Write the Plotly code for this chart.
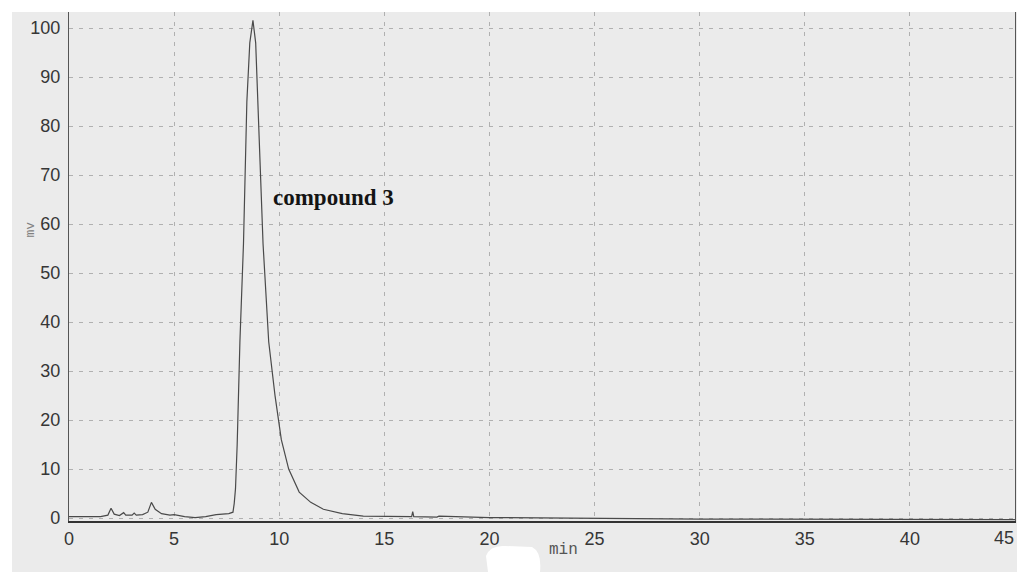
import plotly.graph_objects as go

# Chromatogram trace: retention time (min) and detector response (mV)
time_min = [0.0, 1.5, 1.85, 2.0, 2.15, 2.4, 2.6, 2.7, 3.0, 3.1, 3.2, 3.5, 3.75, 3.92,
            4.1, 4.4, 4.8, 5.0, 5.5, 6.0, 6.5, 7.0, 7.6, 7.8, 7.86, 7.92, 8.0, 8.13,
            8.3, 8.46, 8.6, 8.75, 8.88, 8.99, 9.23, 9.5, 9.8, 10.1, 10.45, 10.95,
            11.5, 12.1, 13.0, 14.0, 15.0, 16.3, 16.35, 16.4, 17.5, 17.6, 20.0, 30.0, 45.0]
signal_mv = [0.3, 0.3, 0.6, 2.0, 0.8, 0.5, 1.1, 0.6, 0.6, 1.0, 0.6, 0.7, 1.2, 3.2,
             1.8, 0.9, 0.6, 0.7, 0.3, 0.1, 0.3, 0.7, 0.9, 1.2, 3.0, 6.0, 15.0, 36.0,
             56.0, 85.0, 97.0, 101.6, 97.0, 85.0, 56.0, 36.0, 25.0, 16.0, 10.0, 5.3,
             3.2, 1.8, 0.9, 0.4, 0.3, 0.3, 1.3, 0.3, 0.2, 0.4, 0.1, -0.2, -0.3]

x_ticks = [0, 5, 10, 15, 20, 25, 30, 35, 40, 45]
y_ticks = [0, 10, 20, 30, 40, 50, 60, 70, 80, 90, 100]

peak_label = "compound 3"
peak_label_time = 9.6
peak_label_mv = 65.5

W, H = 1017, 572
ML, MR, MT, MB = 69, 2, 12, 51
PAPER_BG = "#ebebeb"


def px_x(px):
    return (px - ML) / (W - ML - MR)


def px_y(py):
    return 1 - (py - MT) / (H - MT - MB)


fig = go.Figure()
fig.add_trace(go.Scatter(
    x=time_min, y=signal_mv, mode="lines",
    line=dict(color="#4a4a4a", width=1.2),
    hoverinfo="skip", showlegend=False,
))

tick_font = dict(family="Liberation Sans, Arial, sans-serif", size=18, color="#363636")
grid_common = dict(showgrid=True, gridcolor="#b0b0b0", gridwidth=1, zeroline=False, ticks="")

# the last x tick sits on the sheet edge and is drawn as a separate label below
fig.update_xaxes(range=[0, 45], tickvals=x_ticks, ticktext=[str(v) for v in x_ticks[:-1]] + [""],
                 tickfont=tick_font, showline=True, linecolor="#333333", linewidth=2,
                 griddash="4px,6px", **grid_common)
fig.update_yaxes(range=[-0.6, 103.3], tickvals=y_ticks, ticktext=[str(v) for v in y_ticks],
                 tickfont=tick_font, showline=True, mirror=True, linecolor="#555555",
                 linewidth=1.3, griddash="4px,6px", ticklabelstandoff=4, **grid_common)

shapes = [
    # white strips along top and left edges of the sheet
    dict(type="rect", xref="paper", yref="paper", x0=px_x(0), x1=px_x(W), y0=px_y(12), y1=px_y(0),
         fillcolor="white", line_width=0, layer="below"),
    dict(type="rect", xref="paper", yref="paper", x0=px_x(0), x1=px_x(12), y0=px_y(H), y1=px_y(0),
         fillcolor="white", line_width=0, layer="below"),
    # erased patch beside the axis unit
    dict(type="path", xref="paper", yref="paper",
         path=(f"M {px_x(488)},{px_y(572)} L {px_x(486)},{px_y(556)} Q {px_x(490)},{px_y(545)} "
               f"{px_x(505)},{px_y(546)} L {px_x(532)},{px_y(547)} Q {px_x(542)},{px_y(552)} "
               f"{px_x(540)},{px_y(572)} Z"),
         fillcolor="white", line_width=0, layer="above"),
]

annotations = [
    dict(text=f"<b>{peak_label}</b>", x=peak_label_time, y=peak_label_mv, xref="x", yref="y",
         xanchor="left", yanchor="middle", showarrow=False,
         font=dict(family="Liberation Serif, Times New Roman, serif", size=23, color="#141414")),
    dict(text=str(x_ticks[-1]), x=px_x(1016), y=px_y(538), xref="paper", yref="paper",
         xanchor="right", yanchor="middle", showarrow=False, font=tick_font),
    dict(text="min", x=px_x(563), y=px_y(561), xref="paper", yref="paper",
         showarrow=False, font=dict(family="Liberation Mono, monospace", size=16, color="#555555")),
    dict(text="mv", x=px_x(20), y=px_y(230), xref="paper", yref="paper", textangle=-90,
         showarrow=False, font=dict(family="Liberation Mono, monospace", size=13, color="#808080")),
]

fig.update_layout(
    width=W, height=H,
    margin=dict(l=ML, r=MR, t=MT, b=MB),
    paper_bgcolor=PAPER_BG, plot_bgcolor=PAPER_BG,
    shapes=shapes, annotations=annotations,
    showlegend=False,
)

fig.write_html("out.html")
